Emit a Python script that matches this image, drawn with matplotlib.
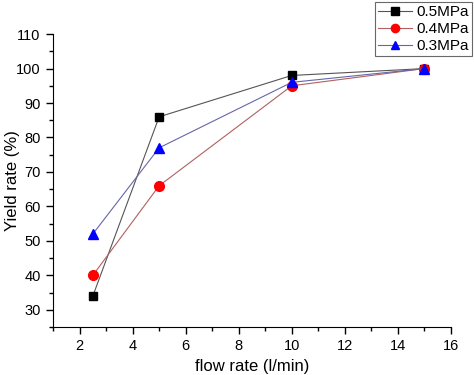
import matplotlib
matplotlib.use("Agg")
import matplotlib.pyplot as plt
from matplotlib.ticker import MultipleLocator

plt.rcParams['font.family'] = ['Liberation Sans', 'DejaVu Sans']

flow = [2.5, 5, 10, 15]
y_05 = [34, 86, 98, 100]
y_04 = [40, 66, 95, 100]
y_03 = [52, 77, 96, 100]
labels = ["0.5MPa", "0.4MPa", "0.3MPa"]

fig = plt.figure(figsize=(4.74, 3.75), dpi=100)
ax = fig.add_axes([0.112, 0.128, 0.839, 0.781])

h1, = ax.plot(flow, y_05, color='#555555', lw=0.8, marker='s', ms=6,
              mfc='black', mec='black', label=labels[0])
h2, = ax.plot(flow, y_04, color='#b06060', lw=0.8, marker='o', ms=7,
              mfc='red', mec='red', label=labels[1])
h3, = ax.plot(flow, y_03, color='#6666aa', lw=0.8, marker='^', ms=7,
              mfc='blue', mec='blue', label=labels[2])

ax.set_xlim(1, 16)
ax.set_ylim(25, 110)
ax.xaxis.set_minor_locator(MultipleLocator(1))
ax.yaxis.set_minor_locator(MultipleLocator(5))
ax.set_xticks(range(2, 17, 2))
ax.set_yticks(range(30, 111, 10))
ax.spines['top'].set_visible(False)
ax.spines['right'].set_visible(False)
ax.tick_params(which='major', direction='out', length=5, width=1, labelsize=10.5, pad=4)
ax.tick_params(which='minor', direction='out', length=3, width=1)

ax.set_xlabel('flow rate (l/min)', fontsize=12)
ax.set_ylabel('Yield rate (%)', fontsize=12)
ax.yaxis.set_label_coords(-0.082, 0.5)

leg = fig.legend(handles=[h1, h2, h3], loc='upper right',
                 bbox_to_anchor=(0.996, 0.995), fontsize=11,
                 frameon=True, fancybox=False, edgecolor='#444444',
                 handlelength=2.2, borderpad=0.2, labelspacing=0.2,
                 handletextpad=0.3, borderaxespad=0, markerscale=0.85)
leg.get_frame().set_linewidth(0.8)

fig.savefig('out.png', dpi=100)
